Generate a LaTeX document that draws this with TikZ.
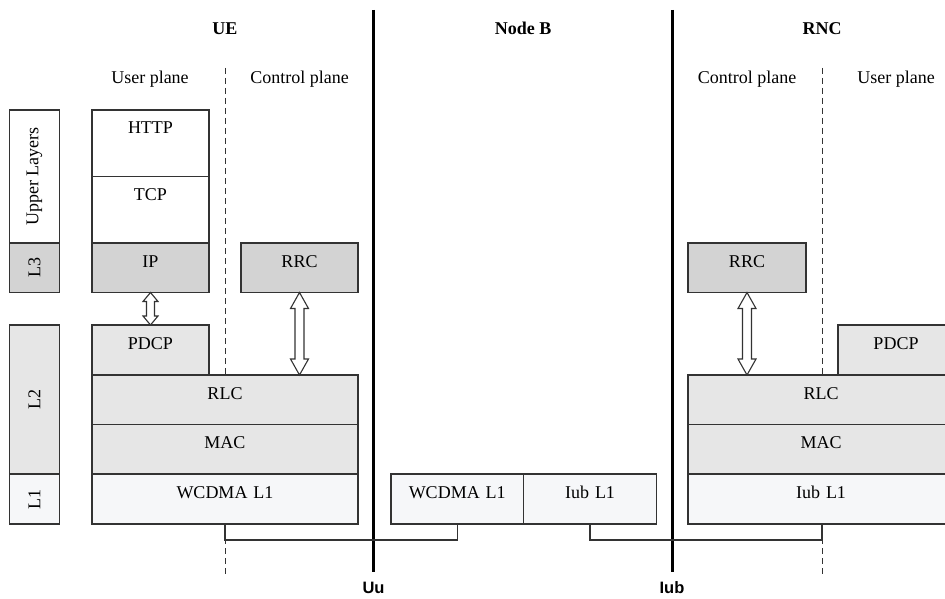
\documentclass[tikz,border=0pt]{standalone}
\usepackage{fontspec}
\setmainfont{Liberation Serif}
\newfontfamily\ifacefont{Liberation Sans}
\usetikzlibrary{calc}

\definecolor{layerdark}{HTML}{D3D3D3}
\definecolor{layermid}{HTML}{E6E6E6}
\definecolor{layerlight}{HTML}{F6F7F9}
\definecolor{edgegray}{HTML}{333333}

\tikzset{
  txt/.style={font=\fontsize{18}{20}\selectfont},
  layer/.style={txt, draw=edgegray, line width=1.1pt, inner sep=0pt, outer sep=0pt,
    anchor=north west, align=center, text height=24pt},
  % #1 = width, #2 = height of a protocol box (label baseline 24pt below the top)
  proto/.style 2 args={layer, text width=#1pt, text depth=#2pt-24pt},
  side/.style={draw=edgegray, line width=1.1pt, inner sep=0pt, outer sep=0pt,
    anchor=north west, minimum width=50pt},
  sidelabel/.style={txt, rotate=90, inner sep=0pt},
  title/.style={font=\bfseries\fontsize{18}{20}\selectfont, anchor=base},
  plane/.style={txt, anchor=base},
  iface/.style={font=\ifacefont\bfseries\fontsize{16.5}{18}\selectfont, anchor=base},
  border/.style={line width=3pt, black},
  planesep/.style={line width=0.9pt, edgegray, dash pattern=on 6pt off 4pt},
  link/.style={line width=1.2pt, edgegray},
  hollow/.style={draw=edgegray, line width=1.1pt, fill=white, line join=miter}
}

% Double-headed hollow arrow between a top and a bottom point
% #1 top point, #2 bottom point, #3 head length, #4 head half width, #5 shaft half width
\newcommand\hollowarrow[5]{%
  \draw[hollow] let \p1=(#1), \p2=(#2) in
    (\x1,\y1) -- (\x1+#4,\y1-#3) -- (\x1+#5,\y1-#3) -- (\x1+#5,\y2+#3)
    -- (\x1+#4,\y2+#3) -- (\x1,\y2) -- (\x1-#4,\y2+#3) -- (\x1-#5,\y2+#3)
    -- (\x1-#5,\y1-#3) -- (\x1-#4,\y1-#3) -- cycle;}

\begin{document}
\begin{tikzpicture}[x=1pt, y=-1pt]
\useasboundingbox (0,0) rectangle (945,599);
\clip (0,0) rectangle (945,599);
\fill[white] (0,0) rectangle (945,599);

% ---- entity borders and plane separators ----
\coordinate (uuTop) at (373.5,10);
\coordinate (uuBot) at (373.5,572);
\coordinate (iubTop) at (672,10);
\coordinate (iubBot) at (672,572);
\coordinate (ueDashTop) at (225,68);
\coordinate (ueDashBot) at (225,575);
\coordinate (rncDashTop) at (822,68);
\coordinate (rncDashBot) at (822,575);

\draw[planesep] (ueDashTop) -- (ueDashBot);
\draw[planesep] (rncDashTop) -- (rncDashBot);
\draw[border] (uuTop) -- (uuBot);
\draw[border] (iubTop) -- (iubBot);

% ---- headings ----
\node[title] (ueTitle) at (225,35) {UE};
\node[title] (nbTitle) at (523,35) {Node B};
\node[title] (rncTitle) at (822,35) {RNC};
\node[plane] (ueUser) at (150,84) {User plane};
\node[plane] (ueCtrl) at (299.5,84) {Control plane};
\node[plane] (rncCtrl) at (747,84) {Control plane};
\node[plane] (rncUser) at (896,84) {User plane};

% ---- layer column ----
\node[side, fill=white, minimum height=133pt,
  label={[sidelabel]center:Upper Layers}] (colUpper) at (9.5,110) {};
\node[side, fill=layerdark, minimum height=49.5pt,
  label={[sidelabel]center:L3}] (colL3) at (9.5,243) {};
\node[side, fill=layermid, minimum height=149pt,
  label={[sidelabel]center:L2}] (colL2) at (9.5,325) {};
\node[side, fill=layerlight, minimum height=50pt,
  label={[sidelabel]center:L1}] (colL1) at (9.5,474) {};

% ---- UE stack ----
\node[proto={117}{66.5}, fill=white] (ueHttp) at (92,110) {HTTP};
\node[proto={117}{66.5}, fill=white] (ueTcp) at (92,176.5) {TCP};
\node[proto={117}{49.5}, fill=layerdark] (ueIp) at (92,243) {IP};
\node[proto={117}{49.5}, fill=layerdark] (ueRrc) at (241,243) {RRC};
\node[proto={117}{50}, fill=layermid] (uePdcp) at (92,325) {PDCP};
\node[proto={266}{49.5}, fill=layermid] (ueRlc) at (92,375) {RLC};
\node[proto={266}{49.5}, fill=layermid] (ueMac) at (92,424.5) {MAC};
\node[proto={266}{50}, fill=layerlight] (ueL1) at (92,474) {WCDMA L1};

% ---- Node B stack ----
\node[proto={132.5}{50}, fill=layerlight] (nbWcdma) at (391,474) {WCDMA L1};
\node[proto={133}{50}, fill=layerlight] (nbIub) at (523.5,474) {Iub L1};

% ---- RNC stack ----
\node[proto={118}{49.5}, fill=layerdark] (rncRrc) at (688,243) {RRC};
\node[proto={116}{50}, fill=layermid] (rncPdcp) at (838,325) {PDCP};
\node[proto={266}{49.5}, fill=layermid] (rncRlc) at (688,375) {RLC};
\node[proto={266}{49.5}, fill=layermid] (rncMac) at (688,424.5) {MAC};
\node[proto={266}{50}, fill=layerlight] (rncL1) at (688,474) {Iub L1};

% ---- service access arrows ----
\hollowarrow{ueIp.south}{uePdcp.north}{9pt}{7.5pt}{4pt}
\hollowarrow{ueRrc.south}{ueRrc.south |- ueRlc.north}{16pt}{9pt}{4.5pt}
\hollowarrow{rncRrc.south}{rncRrc.south |- rncRlc.north}{16pt}{9pt}{4.5pt}

% ---- physical links ----
\draw[link] (ueL1.south -| ueDashTop) -- ++(0,16) -| (nbWcdma.south);
\draw[link] (nbIub.south) -- ++(0,16) -| (rncL1.south -| rncDashTop);

% ---- interface names ----
\node[iface] (uuLabel) at (373.5,593) {Uu};
\node[iface] (iubLabel) at (672,593) {Iub};
\end{tikzpicture}
\end{document}
